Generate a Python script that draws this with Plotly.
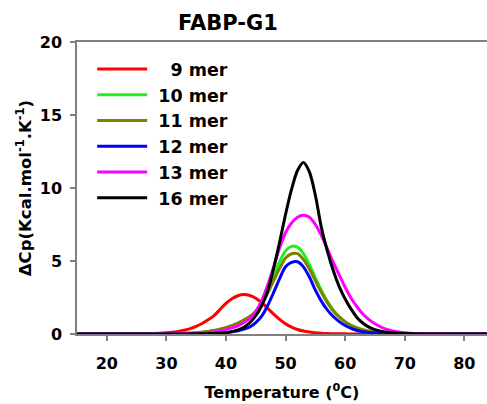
import plotly.graph_objects as go

# Temperature grid (°C) shared by all DSC traces
temperature = [15, 20, 25, 28, 30, 31, 32, 33, 34, 35, 36, 37, 38, 39, 40,
               41, 42, 43, 44, 45, 46, 47, 48, 49, 50, 51, 52, 53, 54, 55,
               56, 57, 58, 59, 60, 61, 62, 63, 64, 65, 66, 67, 68, 69, 70,
               72, 75, 80, 84]

# Excess heat capacity, ΔCp (kcal/mol/K)
cp_9mer = [0, 0, 0.01, 0.03, 0.08, 0.12, 0.18, 0.26, 0.37, 0.52, 0.72, 0.97, 1.26, 1.68, 2.10,
           2.42, 2.62, 2.70, 2.64, 2.45, 2.14, 1.76, 1.36, 1.00, 0.70, 0.47, 0.31, 0.20, 0.13, 0.08,
           0.05, 0.03, 0.02, 0.01, 0.01, 0, 0, 0, 0, 0, 0, 0, 0, 0, 0,
           0, 0, 0, 0]
cp_10mer = [0, 0, 0, 0.01, 0.02, 0.03, 0.04, 0.05, 0.06, 0.08, 0.12, 0.17, 0.24, 0.33, 0.44,
            0.57, 0.74, 0.95, 1.20, 1.55, 2.15, 2.95, 3.95, 4.95, 5.70, 6.00, 5.95, 5.50, 4.75, 3.85,
            3.00, 2.25, 1.65, 1.20, 0.85, 0.60, 0.42, 0.29, 0.20, 0.14, 0.09, 0.06, 0.04, 0.03, 0.02,
            0.01, 0, 0, 0]
cp_11mer = [0, 0, 0, 0.01, 0.02, 0.03, 0.04, 0.05, 0.06, 0.08, 0.12, 0.17, 0.24, 0.33, 0.44,
            0.57, 0.74, 0.95, 1.20, 1.52, 2.05, 2.80, 3.65, 4.50, 5.20, 5.50, 5.50, 5.10, 4.45, 3.65,
            2.85, 2.15, 1.58, 1.15, 0.82, 0.58, 0.41, 0.28, 0.19, 0.13, 0.09, 0.06, 0.04, 0.03, 0.02,
            0.01, 0, 0, 0]
cp_12mer = [0, 0, 0, 0, 0, 0.01, 0.01, 0.01, 0.01, 0.01, 0.02, 0.03, 0.04, 0.07, 0.10,
            0.15, 0.22, 0.33, 0.48, 0.78, 1.22, 1.95, 2.85, 3.80, 4.60, 4.90, 4.95, 4.60, 3.90, 3.00,
            2.25, 1.65, 1.20, 0.85, 0.58, 0.38, 0.24, 0.15, 0.10, 0.06, 0.04, 0.03, 0.02, 0.01, 0.01,
            0, 0, 0, 0]
cp_13mer = [0, 0, 0, 0, 0.01, 0.01, 0.02, 0.02, 0.03, 0.04, 0.07, 0.10, 0.15, 0.22, 0.31,
            0.42, 0.55, 0.78, 1.08, 1.55, 2.30, 3.35, 4.60, 5.90, 6.95, 7.60, 8.00, 8.13, 8.00, 7.50,
            6.75, 5.85, 4.90, 4.05, 3.20, 2.45, 1.85, 1.35, 0.98, 0.70, 0.48, 0.32, 0.21, 0.14, 0.09,
            0.04, 0.01, 0, 0]
cp_16mer = [0, 0, 0, 0, 0, 0, 0, 0, 0.01, 0.01, 0.02, 0.03, 0.04, 0.06, 0.10,
            0.16, 0.28, 0.46, 0.78, 1.25, 1.95, 2.95, 4.50, 6.30, 8.20, 9.90, 11.20, 11.75, 11.10, 9.50,
            7.30, 5.70, 4.35, 3.25, 2.40, 1.70, 1.12, 0.74, 0.47, 0.30, 0.19, 0.12, 0.08, 0.05, 0.03,
            0.01, 0, 0, 0]

series_names = ["\u00a0\u20079 mer", "\u00a010 mer", "\u00a011 mer",
                "\u00a012 mer", "\u00a013 mer", "\u00a016 mer"]
series_values = [cp_9mer, cp_10mer, cp_11mer, cp_12mer, cp_13mer, cp_16mer]
series_colors = ["#ff0000", "#22ee22", "#808000", "#0000ff", "#ff00ff", "#000000"]

FONT = "'DejaVu Sans', Verdana, sans-serif"
AXIS_GRAY = "#808080"

fig = go.Figure()
for i, (name, vals, col) in enumerate(zip(series_names, series_values, series_colors)):
    fig.add_trace(go.Scatter(
        x=temperature, y=vals, name=name, mode="lines",
        line=dict(color=col, width=3, shape="spline", smoothing=0.8),
        legendgroup=f"g{i}",
    ))

fig.update_layout(
    width=487, height=404,
    margin=dict(l=77, r=0, t=42, b=70),
    paper_bgcolor="white", plot_bgcolor="white",
    font=dict(family=FONT, color="black"),
    showlegend=True,
    legend=dict(
        x=0.037, y=0.969, xanchor="left", yanchor="top",
        bgcolor="rgba(0,0,0,0)", borderwidth=0,
        font=dict(size=17.5, family=FONT, weight="bold"),
        itemwidth=50, tracegroupgap=0,
    ),
    annotations=[dict(
        text="<b>FABP-G1</b>", xref="paper", yref="paper",
        x=(228 - 77) / 410, y=1 + (42 - 23) / 292,
        xanchor="center", yanchor="middle", showarrow=False,
        font=dict(size=21, family=FONT, color="black"),
    )],
)

fig.update_xaxes(
    range=[15, 83.8], tickvals=[20, 30, 40, 50, 60, 70, 80],
    showline=True, linecolor=AXIS_GRAY, linewidth=1.5, mirror=True,
    ticks="outside", ticklen=5, tickcolor=AXIS_GRAY, tickwidth=1.5,
    ticklabelstandoff=9,
    showgrid=False, zeroline=False,
    tickfont=dict(size=16, family=FONT, weight="bold"),
    title=dict(text="Temperature (<sup>0</sup>C)", standoff=15,
               font=dict(size=16, family=FONT, weight="bold")),
)
fig.update_yaxes(
    range=[0, 20], tickvals=[0, 5, 10, 15, 20],
    showline=True, linecolor=AXIS_GRAY, linewidth=1.5,
    ticks="outside", ticklen=5, tickcolor=AXIS_GRAY, tickwidth=1.5,
    ticklabelstandoff=5,
    showgrid=False, zeroline=False,
    tickfont=dict(size=16, family=FONT, weight="bold"),
    title=dict(text="ΔCp(Kcal.mol<sup>-1</sup>.K<sup>-1</sup>)", standoff=4,
               font=dict(size=16.5, family=FONT, weight="bold")),
)

fig.write_html("out.html")
